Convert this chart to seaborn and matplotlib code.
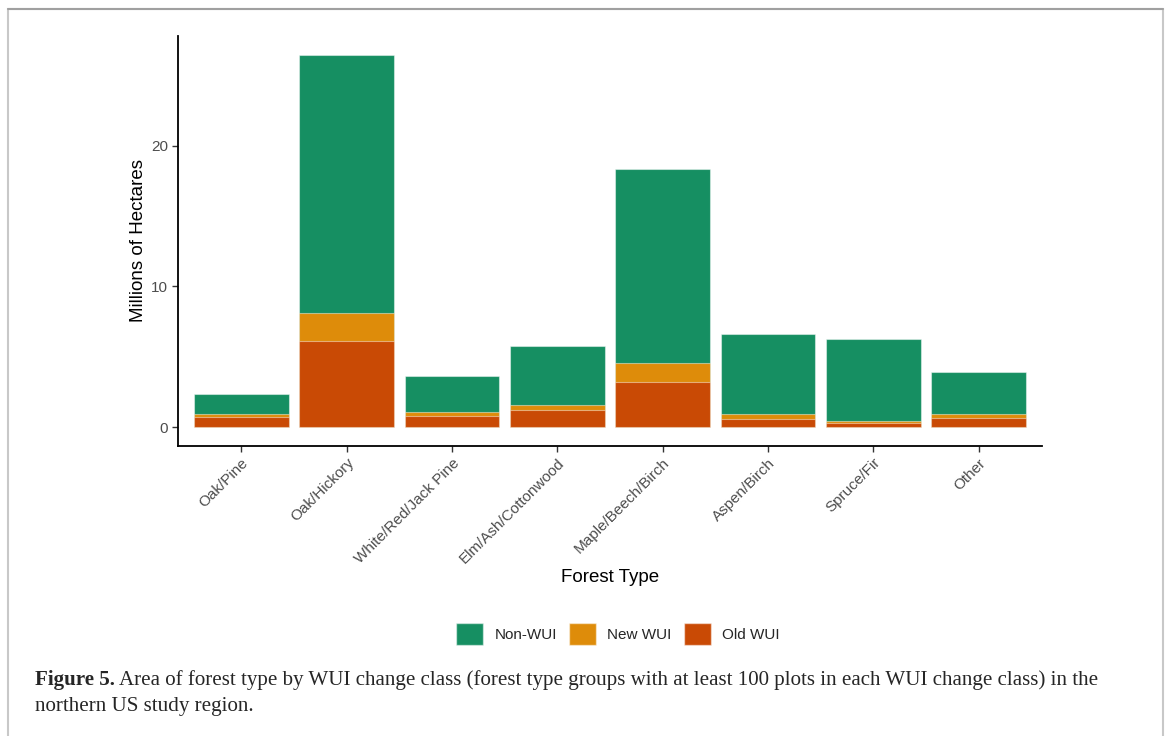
import matplotlib
matplotlib.use("Agg")
import matplotlib.pyplot as plt
from matplotlib.patches import Patch, Rectangle
import numpy as np
import pandas as pd
import seaborn as sns

# Forest type groups and area (millions of hectares) by WUI change class
forest_types = ["Oak/Pine", "Oak/Hickory", "White/Red/Jack Pine", "Elm/Ash/Cottonwood",
                "Maple/Beech/Birch", "Aspen/Birch", "Spruce/Fir", "Other"]
old_wui = [0.72, 6.12, 0.80, 1.23, 3.19, 0.61, 0.30, 0.68]
new_wui = [0.23, 2.01, 0.26, 0.33, 1.35, 0.31, 0.15, 0.24]
non_wui = [1.45, 18.32, 2.58, 4.21, 13.78, 5.68, 5.81, 3.02]

classes = ["Non-WUI", "New WUI", "Old WUI"]
colors = {"Non-WUI": "#168F62", "New WUI": "#DE8C0A", "Old WUI": "#C94A05"}

df = pd.DataFrame({"Forest Type": forest_types, "Old WUI": old_wui,
                   "New WUI": new_wui, "Non-WUI": non_wui})
# cumulative heights for stacking (Old at bottom, Non-WUI on top)
df["top_old"] = df["Old WUI"]
df["top_new"] = df["top_old"] + df["New WUI"]
df["top_non"] = df["top_new"] + df["Non-WUI"]

sns.set_theme(style="white")
plt.rcParams["font.family"] = ["Liberation Sans", "DejaVu Sans"]

fig = plt.figure(figsize=(11.7, 7.36), dpi=100)
ax = fig.add_axes([178 / 1170, 1 - 446 / 736, (1042 - 178) / 1170, (446 - 36) / 736])

edge = (1, 1, 1, 0.45)
for col, cls in [("top_non", "Non-WUI"), ("top_new", "New WUI"), ("top_old", "Old WUI")]:
    sns.barplot(data=df, x="Forest Type", y=col, order=forest_types, color=colors[cls],
                saturation=1, width=0.9, edgecolor=edge, linewidth=0.8, ax=ax, errorbar=None)

ymax = df["top_non"].max()
ax.set_ylim(-0.05 * ymax, 1.05 * ymax)
ax.set_xlim(-0.6, len(forest_types) - 0.4)
ax.set_yticks([0, 10, 20])

for s in ["top", "right"]:
    ax.spines[s].set_visible(False)
for s in ["left", "bottom"]:
    ax.spines[s].set_color("black")
    ax.spines[s].set_linewidth(1.3)

ax.tick_params(axis="both", which="both", length=4, width=1, color="#333333",
               labelsize=11, labelcolor="#4D4D4D", pad=3, left=True, bottom=True)
plt.setp(ax.get_xticklabels(), rotation=45, ha="right", rotation_mode="anchor")

ax.set_ylabel("Millions of Hectares", fontsize=13.5, color="black")
ax.yaxis.set_label_coords(-0.036, 0.5)
ax.set_xlabel("Forest Type", fontsize=13.5, color="black")
ax.xaxis.set_label_coords(0.5, -0.30)

handles = [Patch(facecolor=colors[c], edgecolor=(1, 1, 1, 0.5), label=c) for c in classes]
fig.legend(handles=handles, loc="center", bbox_to_anchor=(618 / 1170, 1 - 634 / 736),
           ncol=3, frameon=False, fontsize=11, handlelength=1.75, handleheight=1.75,
           handletextpad=0.75, columnspacing=0.8)

# caption
cap_x = 35 / 1170
y1 = 1 - 685 / 736
y2 = 1 - 711 / 736
serif = ["Liberation Serif", "DejaVu Serif"]
cap_size = 15.15
t_bold = fig.text(cap_x, y1, "Figure 5.", fontsize=cap_size, fontweight="bold", family=serif,
                  va="baseline", ha="left")
fig.canvas.draw()
bb = t_bold.get_window_extent(fig.canvas.get_renderer())
fig.text(bb.x1 / fig.bbox.width + 4 / 1170, y1,
         "Area of forest type by WUI change class (forest type groups with at least 100 plots "
         "in each WUI change class) in the",
         fontsize=cap_size, family=serif, va="baseline", ha="left")
fig.text(cap_x, y2, "northern US study region.", fontsize=cap_size, family=serif,
         va="baseline", ha="left")

# frame round the figure panel
fig.add_artist(Rectangle((8 / 1170, -0.01), (1163 - 8) / 1170, 1.01 - 9 / 736,
                         transform=fig.transFigure, fill=False, edgecolor="#C8C8C8",
                         linewidth=1.5))
fig.add_artist(plt.Line2D([8 / 1170, 1163 / 1170], [1 - 9 / 736, 1 - 9 / 736],
                          transform=fig.transFigure, color="#A0A0A0", linewidth=1.5))

fig.savefig("out.png", dpi=100)
